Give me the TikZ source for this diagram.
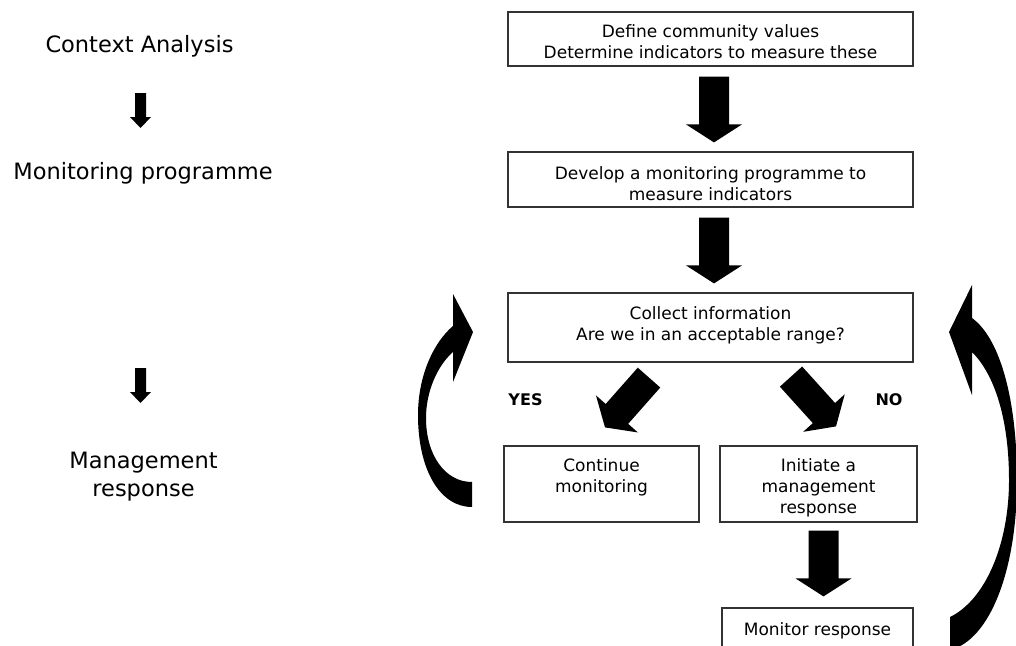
\documentclass[tikz,border=0pt]{standalone}
\usepackage{fontspec}
\setmainfont{DejaVu Sans}
\usetikzlibrary{calc}
\newcommand\boxtext[2]{\raisebox{#1}[\height][\depth]{\begin{tabular}{@{}c@{}}#2\end{tabular}}}
% block arrow: start, end, shaft half width, head half width, head length
\newcommand\blockarrow[5]{%
  \coordinate (bahead) at ($(#2)!#5!(#1)$);
  \fill[black] ($(#1)!#3!90:(#2)$) -- ($(bahead)!#3!90:(#2)$) -- ($(bahead)!#4!90:(#2)$) -- (#2)
     -- ($(bahead)!#4!-90:(#2)$) -- ($(bahead)!#3!-90:(#2)$) -- ($(#1)!#3!-90:(#2)$) -- cycle;}
\begin{document}
\begin{tikzpicture}[x=1pt,y=-1pt,
  flowbox/.style={draw=black!80, line width=1.2pt, rectangle, inner sep=0pt,
    font=\fontsize{17}{21}\selectfont},
  lefttext/.style={font=\fontsize{22.5}{28.5}\selectfont, inner sep=0pt, anchor=base},
  answer/.style={font=\fontsize{16}{19}\selectfont\bfseries, inner sep=0pt, anchor=base}]
\useasboundingbox (0,0) rectangle (1016,645);
\clip (0,0) rectangle (1016,645);

% left column
\node[lefttext] (l1) at (139.5,52.7) {Context Analysis};
\node[lefttext] (l2) at (143,179.3) {Monitoring programme};
\node[lefttext] (l3) at (143.5,468.3) {\begin{tabular}[t]{@{}c@{}}Management\\response\end{tabular}};

% flow boxes
\node[flowbox, minimum width=405pt, minimum height=54pt] (b1) at (710.5,39)
  {\boxtext{-4.8pt}{Define community values\\Determine indicators to measure these}};
\node[flowbox, minimum width=405pt, minimum height=55pt] (b2) at (710.5,179.5)
  {\boxtext{-6.5pt}{Develop a monitoring programme to\\measure indicators}};
\node[flowbox, minimum width=405pt, minimum height=69pt] (b3) at (710.5,327.5)
  {\boxtext{1.7pt}{Collect information\\Are we in an acceptable range?}};
\node[flowbox, minimum width=195pt, minimum height=76pt] (b4) at (601.5,484)
  {\boxtext{6pt}{Continue\\monitoring}};
\node[flowbox, minimum width=197pt, minimum height=76pt] (b5) at (818.5,484)
  {\boxtext{-4.5pt}{Initiate a\\management\\response}};
\node[flowbox, minimum width=191pt, minimum height=60pt] (b6) at (817.5,638)
  {\boxtext{7.2pt}{Monitor response}};

\node[answer] (yes) at (525.5,405) {YES};
\node[answer] (no) at (889,405) {NO};

% connector end points
\coordinate (s1) at ($(l1.base)+(1,40.3)$);
\coordinate (e1) at ($(l2.base)+(-2.5,-51.3)$);
\coordinate (s2) at ($(l2.base)+(-2.5,188.7)$);
\coordinate (e2) at ($(l3.base)+(-3,-65.3)$);
\coordinate (a1s) at ($(b1.south)+(3.5,10)$);
\coordinate (a1e) at ($(b2.north)+(3.5,-9)$);
\coordinate (a2s) at ($(b2.south)+(3.5,10)$);
\coordinate (a2e) at ($(b3.north)+(3.5,-9)$);
\coordinate (ys) at ($(b3.south)+(-61.5,15)$);
\coordinate (ye) at ($(b4.north)+(3.5,-18)$);
\coordinate (ns) at ($(b3.south)+(80.5,14)$);
\coordinate (ne) at ($(b5.north)+(17.5,-19)$);
\coordinate (a3s) at ($(b5.south)+(5,8)$);
\coordinate (a3e) at ($(b6.north)+(6,-11)$);

% block arrows
\blockarrow{s1}{e1}{5.5pt}{10.5pt}{11pt}
\blockarrow{s2}{e2}{5.5pt}{10.5pt}{11pt}
\blockarrow{a1s}{a1e}{15pt}{28pt}{18pt}
\blockarrow{a2s}{a2e}{15pt}{28pt}{18pt}
\blockarrow{ys}{ye}{15pt}{28pt}{18pt}
\blockarrow{ns}{ne}{15pt}{28pt}{18pt}
\blockarrow{a3s}{a3e}{15pt}{28pt}{18pt}

% curved feedback arrows
\fill[black] (472,507) .. controls (440,507) and (418,470) .. (418,415)
  .. controls (418,375) and (434,342) .. (453,326) -- (453,294) -- (473,332) -- (453,382) -- (453,352)
  .. controls (437,366) and (426,392) .. (426,418)
  .. controls (426,455) and (445,482) .. (472,482) -- cycle;
\fill[black] (950,617) .. controls (985,600) and (1009,545) .. (1009,480)
  .. controls (1009,420) and (995,375) .. (972,352) -- (972,395) -- (949,332) -- (972,285) -- (972,318)
  .. controls (1002,340) and (1017,405) .. (1017,480)
  .. controls (1017,570) and (990,640) .. (950,650) -- cycle;
\end{tikzpicture}
\end{document}
